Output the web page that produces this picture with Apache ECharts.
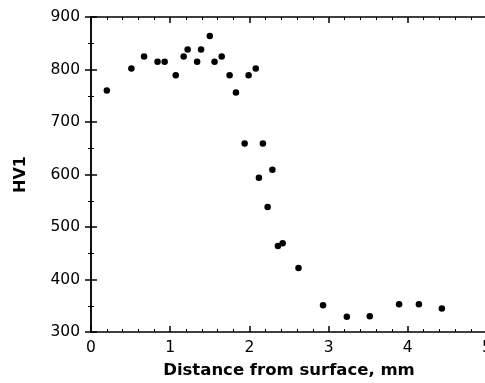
<!DOCTYPE html>
<html><head><meta charset="utf-8">
<script src="https://cdn.jsdelivr.net/npm/echarts@6/dist/echarts.min.js"></script>
<style>html,body{margin:0;padding:0;background:#fff}#c{width:485px;height:383px}</style>
</head><body><div id="c"></div>
<script>
const distance = [0.20,0.51,0.67,0.84,0.93,1.07,1.17,1.22,1.34,1.39,1.50,1.56,1.65,1.75,1.83,1.94,1.99,2.08,2.12,2.17,2.29,2.23,2.36,2.42,2.62,2.93,3.23,3.52,3.89,4.14,4.43];
const hardness = [760,802,825,815,815,789,825,838,815,838,864,815,825,789,756,659,789,802,594,659,609,538,464,469,422,351,329,330,353,353,345];
const xTicks = [0,1,2,3,4,5];
const yTicks = [300,400,500,600,700,800,900];

const font = '"DejaVu Sans", sans-serif';
const tickBase = {show:true, inside:true, length:6, lineStyle:{color:'#000', width:1.5}};
const minorBase = {show:true, length:3, lineStyle:{color:'#000', width:1}};
const chart = echarts.init(document.getElementById('c'));
chart.setOption({
  animation:false,
  backgroundColor:'#fff',
  grid:{left:91, top:17, width:396, height:315, outerBoundsMode:'none', containLabel:false},
  xAxis:[{
    type:'value', min:xTicks[0], max:xTicks[xTicks.length-1], interval:1, position:'bottom',
    name:'Distance from surface, mm', nameLocation:'middle', nameGap:30,
    nameTextStyle:{fontFamily:font, fontWeight:'bold', fontSize:16.5, color:'#000'},
    axisLine:{lineStyle:{color:'#000', width:1.5}},
    axisTick:tickBase, minorTick:Object.assign({splitNumber:5}, minorBase),
    axisLabel:{fontFamily:font, fontSize:15.5, color:'#000', margin:8},
    splitLine:{show:false}
  },{
    type:'value', min:xTicks[0], max:xTicks[xTicks.length-1], interval:1, position:'top',
    axisLine:{lineStyle:{color:'#000', width:1.5}},
    axisTick:tickBase, minorTick:Object.assign({splitNumber:5}, minorBase),
    axisLabel:{show:false}, splitLine:{show:false}
  }],
  yAxis:[{
    type:'value', min:yTicks[0], max:yTicks[yTicks.length-1], interval:100, position:'left',
    name:'HV1', nameLocation:'middle', nameGap:62, nameRotate:90,
    nameTextStyle:{fontFamily:font, fontWeight:'bold', fontSize:16, color:'#000'},
    axisLine:{show:true, lineStyle:{color:'#000', width:1.5}},
    axisTick:tickBase, minorTick:Object.assign({splitNumber:2}, minorBase),
    axisLabel:{fontFamily:font, fontSize:15.5, color:'#000', margin:11},
    splitLine:{show:false}
  },{
    type:'value', min:yTicks[0], max:yTicks[yTicks.length-1], interval:100, position:'right',
    axisLine:{show:true, lineStyle:{color:'#000', width:1.5}},
    axisTick:tickBase, minorTick:Object.assign({splitNumber:2}, minorBase),
    axisLabel:{show:false}, splitLine:{show:false}
  }],
  series:[{
    type:'scatter', xAxisIndex:0, yAxisIndex:0,
    data: distance.map((d,i)=>[d, hardness[i]]),
    symbol:'circle', symbolSize:6.5,
    itemStyle:{color:'#000', opacity:1}
  }]
});
</script></body></html>
